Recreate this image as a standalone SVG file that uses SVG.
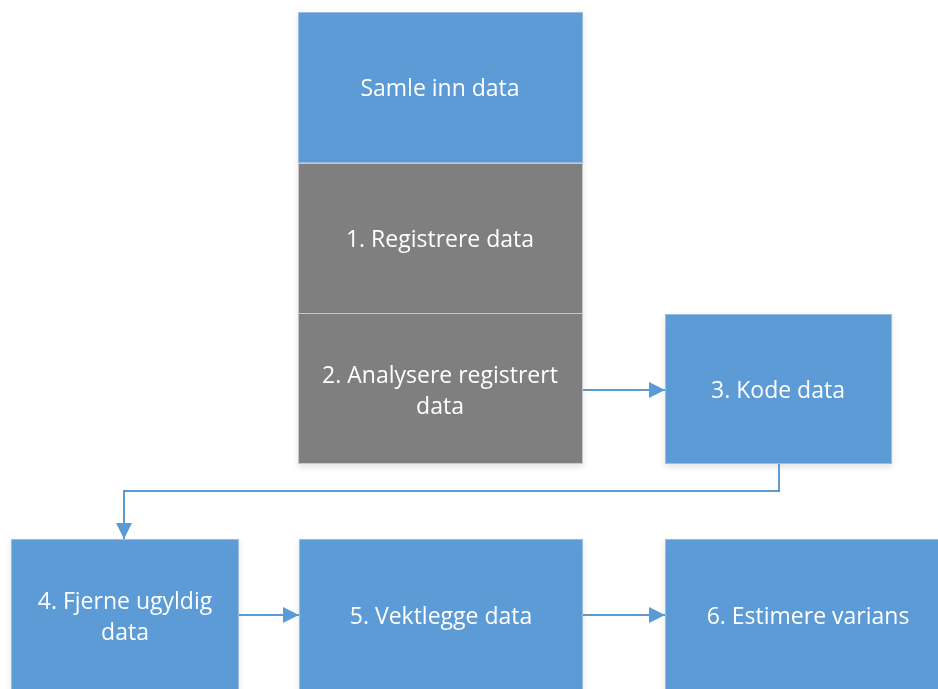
<svg xmlns="http://www.w3.org/2000/svg" width="938" height="689" viewBox="0 0 938 689">
<style>
.b{fill:#5B9BD5;stroke:#9DBCDD;stroke-width:1}
.g{fill:#7F7F7F;stroke:#C8C8C8;stroke-width:1}
.t{font-family:"Open Sans","Liberation Sans",sans-serif;font-size:23px;fill:#fff;text-anchor:middle}
.c{fill:none;stroke:#5B9BD5;stroke-width:2}
</style>
<defs>
<marker id="ah" markerWidth="16" markerHeight="16" refX="16" refY="8" orient="auto" markerUnits="userSpaceOnUse" viewBox="0 0 16 16">
<path d="M0,0 L16,8 L0,16 z" fill="#5B9BD5"/>
</marker>
<filter id="sh" x="-10%" y="-10%" width="120%" height="125%">
<feGaussianBlur in="SourceAlpha" stdDeviation="3"/>
<feOffset dx="0" dy="3"/>
<feComponentTransfer><feFuncA type="linear" slope="0.12"/></feComponentTransfer>
<feMerge><feMergeNode/><feMergeNode in="SourceGraphic"/></feMerge>
</filter>
</defs>
<rect width="938" height="689" fill="#fff"/>
<g id="samle" filter="url(#sh)">
<rect class="b" x="298.5" y="12.5" width="284" height="150"/>
<text class="t" x="440" y="96">Samle inn data</text>
</g>
<g id="n1" filter="url(#sh)">
<rect class="g" x="298.5" y="163.5" width="284" height="150"/>
<text class="t" x="440" y="247">1. Registrere data</text>
</g>
<g id="n2" filter="url(#sh)">
<rect class="g" x="298.5" y="313.5" width="284" height="150"/>
<text class="t" x="440" y="383">2. Analysere registrert</text>
<text class="t" x="440" y="414">data</text>
</g>
<g id="n3" filter="url(#sh)">
<rect class="b" x="665.5" y="314.5" width="226" height="149"/>
<text class="t" x="778" y="398">3. Kode data</text>
</g>
<g id="n4" filter="url(#sh)">
<rect class="b" x="11.5" y="539.5" width="227" height="155"/>
<text class="t" x="125" y="609">4. Fjerne ugyldig</text>
<text class="t" x="125" y="640">data</text>
</g>
<g id="n5" filter="url(#sh)">
<rect class="b" x="299.5" y="539.5" width="283" height="155"/>
<text class="t" x="441" y="624">5. Vektlegge data</text>
</g>
<g id="n6" filter="url(#sh)">
<rect class="b" x="665.5" y="539.5" width="280" height="155"/>
<text class="t" x="808" y="624">6. Estimere varians</text>
</g>
<g id="connectors">
<path class="c" d="M583,390 H665" marker-end="url(#ah)"/>
<path class="c" d="M779,464 V491 H124 V539" marker-end="url(#ah)"/>
<path class="c" d="M239,615 H299" marker-end="url(#ah)"/>
<path class="c" d="M583,615 H665" marker-end="url(#ah)"/>
</g>
</svg>
